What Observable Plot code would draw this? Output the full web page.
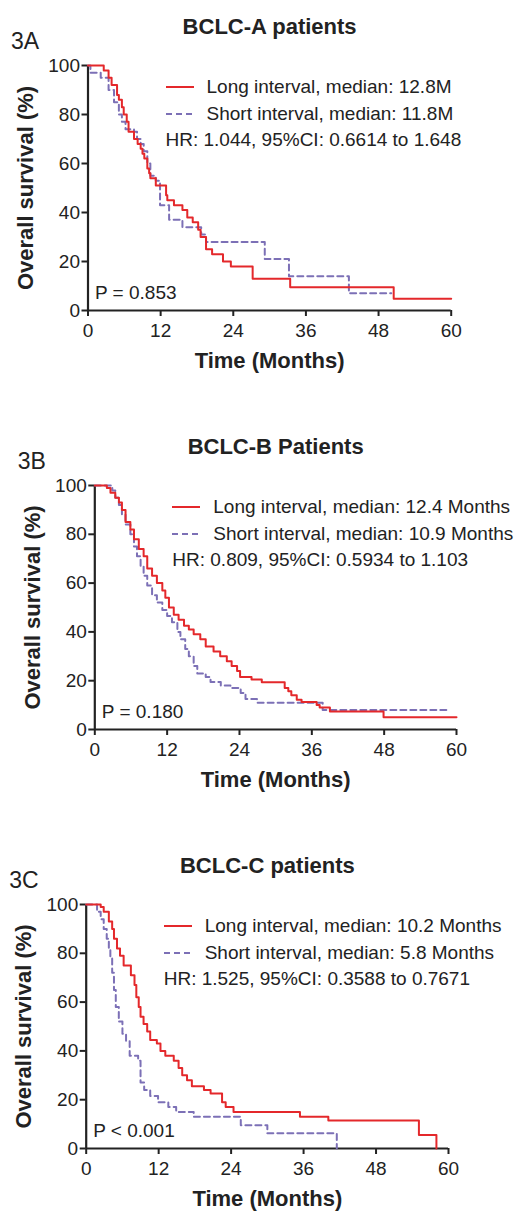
<!DOCTYPE html>
<html><head><meta charset="utf-8">
<script src="https://cdn.jsdelivr.net/npm/d3@7"></script>
<script src="https://cdn.jsdelivr.net/npm/@observablehq/plot@0.6"></script>
<style>
body{margin:0;background:#fff;}
#root{position:relative;width:528px;height:1211px;overflow:hidden;font-family:"Liberation Sans",Arial,Helvetica,sans-serif;color:#222;background:#fff;}
#root svg.plot{position:absolute;left:0;}
.row{position:absolute;display:flex;align-items:center;height:22px;font-size:19px;line-height:22px;white-space:nowrap;color:#222;}
.row svg{display:block;}
</style></head><body><div id="root"></div>
<script>
// ---- data ----
const xTicks = [0, 12, 24, 36, 48, 60];
const yTicks = [0, 20, 40, 60, 80, 100];
const panelTags = ["3A", "3B", "3C"];
const panelTitles = ["BCLC-A patients", "BCLC-B Patients", "BCLC-C patients"];
const longLabels = ["Long interval, median: 12.8M", "Long interval, median: 12.4 Months", "Long interval, median: 10.2 Months"];
const shortLabels = ["Short interval, median: 11.8M", "Short interval, median: 10.9 Months", "Short interval, median: 5.8 Months"];
const hrLabels = ["HR: 1.044, 95%CI: 0.6614 to 1.648", "HR: 0.809, 95%CI: 0.5934 to 1.103", "HR: 1.525, 95%CI: 0.3588 to 0.7671"];
const pLabels = ["P = 0.853", "P = 0.180", "P < 0.001"];
const xLabel = "Time (Months)";
const yLabel = "Overall survival (%)";

// BCLC-A
const aLongT = [0, 2.6, 3.4, 3.9, 4.8, 5.1, 5.6, 5.9, 6.4, 6.7, 7.6, 8.2, 8.7, 9.0, 9.3, 9.8, 10.1, 10.3, 11.2, 12.9, 13.1, 14.2, 15.6, 16.4, 17.3, 18.2, 18.6, 19.5, 20.5, 22.3, 23.6, 27.2, 33.4, 50.5, 60];
const aLongS = [100, 98, 95, 92, 88, 86, 83, 80, 77, 73, 70, 68, 66, 64, 62, 58, 56, 54, 51, 47, 45, 43, 41, 38, 36, 33, 30, 25, 23, 20, 18, 13, 9.5, 4.8, 4.8];
const aShortT = [0, 0.4, 2.1, 3.4, 4.3, 5.1, 5.6, 6.2, 7.6, 8.1, 8.7, 9.2, 9.8, 10.3, 11.2, 11.9, 13.4, 15.6, 18.7, 19.5, 29.2, 33.2, 43.1, 50.1];
const aShortS = [100, 97, 95, 90, 85, 80, 77, 74, 73, 70, 68, 65, 60, 55, 53, 43, 37, 34, 31, 28, 21, 14, 7, 7];
// BCLC-B
const bLongT = [0, 2.0, 2.6, 3.4, 4.0, 4.5, 5.1, 5.9, 6.5, 7.3, 8.1, 8.7, 9.5, 10.3, 11.2, 11.7, 12.3, 13.1, 13.9, 14.8, 15.6, 16.4, 17.5, 18.4, 19.7, 20.8, 21.9, 22.7, 23.6, 24.1, 26.0, 27.7, 31.5, 32.1, 32.6, 33.5, 34.3, 36.8, 37.3, 39.0, 47.9, 60];
const bLongS = [100, 99, 97, 95, 93, 90, 85, 82, 78, 74, 71, 66, 63, 60, 57, 54, 50, 47, 45, 42.5, 41, 39, 37, 34, 32, 30, 28, 26, 24, 21.5, 20.5, 19.4, 17, 15.7, 14, 12.2, 11.3, 10, 9, 7.4, 5, 5];
const bShortT = [0, 2.9, 3.4, 4.0, 4.5, 5.1, 5.9, 6.5, 7.0, 7.6, 8.1, 8.7, 9.5, 10.3, 11.2, 12.0, 12.8, 13.7, 14.2, 15.0, 15.6, 16.4, 17.0, 18.4, 19.2, 20.9, 22.5, 24.2, 25.0, 26.9, 37.8, 58.4];
const bShortS = [100, 98, 95, 92, 88, 84, 80, 75, 71, 67, 63, 59, 55, 52, 49, 46.5, 44, 40, 37, 33, 30, 26, 23, 21.5, 19.5, 18, 17, 15, 12.5, 11, 8, 8];
// BCLC-C
const cLongT = [0, 2.4, 2.9, 3.75, 4.3, 4.6, 5.1, 5.6, 6.2, 7.4, 8.0, 8.3, 8.7, 9.0, 9.5, 10.1, 10.6, 11.7, 12.3, 13.1, 14.5, 15.3, 15.9, 16.7, 17.5, 19.5, 20.6, 22.5, 23.1, 24.4, 35.4, 40.1, 55.1, 58.0];
const cLongS = [100, 99, 97, 93, 90, 86, 82, 79, 75, 71, 67, 62, 58, 54, 51, 48, 44.5, 43, 40, 38, 36, 33, 30, 28, 25.5, 24, 22.5, 19, 17, 15, 13, 11.5, 5.5, 0];
const cShortT = [0, 1.8, 2.4, 2.9, 3.4, 3.75, 4.0, 4.3, 4.6, 4.9, 5.4, 6.0, 6.6, 7.2, 8.6, 9.0, 9.6, 10.6, 11.9, 13.6, 14.9, 17.8, 25.6, 30.0, 41.5];
const cShortS = [100, 97, 94, 90, 86, 82, 78, 72, 65, 58, 52, 47, 44, 38, 36, 27, 24, 21.5, 19, 17, 15, 13, 9.5, 6.2, 0];

// ---- styling / layout ----
const RED = "#e4282b";
const PURPLE = "#7c70b6";
const FONT = '"Liberation Sans", Arial, Helvetica, sans-serif';
const layout = [
  {L: 87.5, R: 450.7, T: 65, B: 310},
  {L: 94.3, R: 456, T: 485, B: 729},
  {L: 85.7, R: 448, T: 904, B: 1148}
];
const series = [
  [aLongT, aLongS, aShortT, aShortS],
  [bLongT, bLongS, bShortT, bShortS],
  [cLongT, cLongS, cShortT, cShortS]
];
const MT = 55, MB = 63;
const root = document.getElementById("root");

layout.forEach((f, i) => {
  const [lt, ls, st, ss] = series[i];
  const longData = lt.map((t, k) => ({t, s: ls[k]}));
  const shortData = st.map((t, k) => ({t, s: ss[k]}));
  const svg = Plot.plot({
    width: 528,
    height: MT + (f.B - f.T) + MB,
    marginLeft: f.L,
    marginRight: 528 - f.R,
    marginTop: MT,
    marginBottom: MB,
    x: {domain: [0, 60]},
    y: {domain: [0, 100]},
    style: {fontFamily: FONT, fontSize: "19px", color: "#222", background: "transparent", overflow: "visible"},
    marks: [
      Plot.axisX({ticks: xTicks, tickSize: 6, tickPadding: 7, strokeWidth: 2, label: null, fontSize: 19, tickFormat: d => String(d)}),
      Plot.axisY({ticks: yTicks, tickSize: 6, tickPadding: 2, strokeWidth: 2, label: null, fontSize: 19, tickFormat: d => String(d)}),
      Plot.ruleX([0], {stroke: "#222", strokeWidth: 2.2}),
      Plot.ruleY([0], {stroke: "#222", strokeWidth: 2.2}),
      Plot.line(shortData, {x: "t", y: "s", curve: "step-after", stroke: PURPLE, strokeWidth: 2, strokeDasharray: "6,4"}),
      Plot.line(longData, {x: "t", y: "s", curve: "step-after", stroke: RED, strokeWidth: 2}),
      Plot.text([panelTitles[i]], {frameAnchor: "top", dy: -39, lineAnchor: "middle", fontSize: 22, fontWeight: "bold"}),
      Plot.text([panelTags[i]], {frameAnchor: "top-left", dx: -77, dy: -24, lineAnchor: "middle", fontSize: 23, textAnchor: "start"}),
      Plot.text([yLabel], {frameAnchor: "left", dx: -62, rotate: -90, textAnchor: "middle", lineAnchor: "middle", fontSize: 22, fontWeight: "bold"}),
      Plot.text([xLabel], {frameAnchor: "bottom", dy: 50, lineAnchor: "middle", fontSize: 22, fontWeight: "bold"}),
      Plot.text([pLabels[i]], {frameAnchor: "bottom-left", dx: 7, dy: -18, lineAnchor: "middle", textAnchor: "start", fontSize: 19})
    ]
  });
  svg.classList.add("plot");
  svg.style.top = (f.T - MT) + "px";
  root.appendChild(svg);

  const rows = [
    {y: 22, text: longLabels[i], stroke: RED, dash: null},
    {y: 49, text: shortLabels[i], stroke: PURPLE, dash: "6,4"},
    {y: 75, text: hrLabels[i], stroke: null}
  ];
  rows.forEach(r => {
    const d = document.createElement("div");
    d.className = "row";
    d.style.left = (f.L + 78) + "px";
    d.style.top = (f.T + r.y - 11) + "px";
    if (r.stroke) {
      d.innerHTML = `<svg width="28" height="22"><line x1="0" x2="28" y1="11" y2="11" stroke="${r.stroke}" stroke-width="2" ${r.dash ? `stroke-dasharray="${r.dash}"` : ""}/></svg><span style="margin-left:13px">${r.text}</span>`;
    } else {
      d.innerHTML = `<span>${r.text}</span>`;
    }
    root.appendChild(d);
  });
});
</script>
</body></html>
